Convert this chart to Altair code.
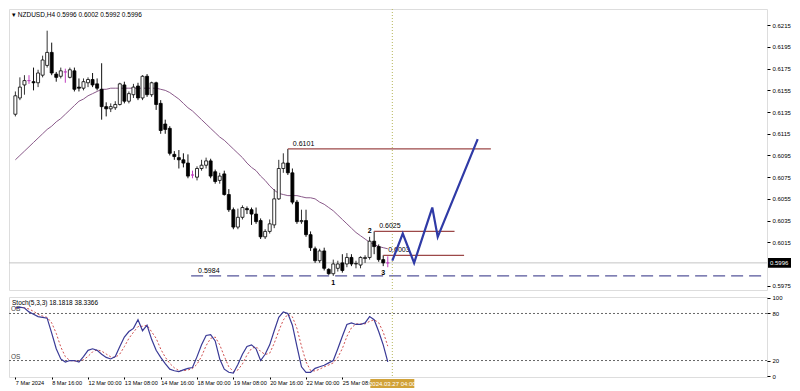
import altair as alt
import pandas as pd

# ---------------- data ----------------
opens = [0.6133, 0.6148, 0.6160, 0.6164, 0.6163, 0.6162, 0.6169, 0.6178, 0.6190, 0.6170,
         0.6168, 0.6172, 0.6167, 0.6173, 0.6158, 0.6157, 0.6162, 0.6165, 0.6161, 0.6156,
         0.6140, 0.6138, 0.6139, 0.6142, 0.6160, 0.6145, 0.6151, 0.6159, 0.6148, 0.6168,
         0.6151, 0.6162, 0.6143, 0.6124, 0.6120, 0.6096, 0.6093, 0.6091, 0.6088, 0.6077,
         0.6075, 0.6083, 0.6086, 0.6090, 0.6080, 0.6072, 0.6078, 0.6059, 0.6045, 0.6029,
         0.6038, 0.6046, 0.6045, 0.6041, 0.6035, 0.6020, 0.6025, 0.6031, 0.6055, 0.6083,
         0.6088, 0.6079, 0.6052, 0.6034, 0.6035, 0.6022, 0.6009, 0.5998, 0.6007, 0.5990,
         0.5986, 0.5991, 0.5996, 0.5995, 0.6001, 0.5995, 0.5994, 0.6000, 0.6001, 0.6016,
         0.6011, 0.5999, 0.5996]
highs = [0.6154, 0.6167, 0.6169, 0.6169, 0.6176, 0.6174, 0.6187, 0.6210, 0.6199, 0.6172,
         0.6176, 0.6175, 0.6176, 0.6176, 0.6166, 0.6166, 0.6167, 0.6171, 0.6166, 0.6180,
         0.6144, 0.6143, 0.6145, 0.6162, 0.6163, 0.6154, 0.6161, 0.6162, 0.6169, 0.6170,
         0.6163, 0.6163, 0.6146, 0.6128, 0.6122, 0.6099, 0.6100, 0.6097, 0.6096, 0.6081,
         0.6085, 0.6091, 0.6093, 0.6092, 0.6082, 0.6079, 0.6081, 0.6064, 0.6047, 0.6046,
         0.6049, 0.6048, 0.6047, 0.6047, 0.6037, 0.6027, 0.6036, 0.6064, 0.6091, 0.6097,
         0.6101, 0.6083, 0.6054, 0.6045, 0.6045, 0.6025, 0.6011, 0.6009, 0.6010, 0.5991,
         0.5999, 0.5998, 0.6004, 0.6005, 0.6004, 0.5998, 0.6002, 0.6003, 0.6020, 0.6025,
         0.6013, 0.6003, 0.6002]
lows = [0.6131, 0.6146, 0.6151, 0.6161, 0.6155, 0.6158, 0.6167, 0.6176, 0.6169, 0.6163,
        0.6166, 0.6162, 0.6166, 0.6154, 0.6154, 0.6155, 0.6158, 0.6158, 0.6155, 0.6128,
        0.6131, 0.6135, 0.6137, 0.6141, 0.6143, 0.6143, 0.6148, 0.6146, 0.6146, 0.6149,
        0.6149, 0.6137, 0.6115, 0.6115, 0.6095, 0.6091, 0.6083, 0.6084, 0.6074, 0.6074,
        0.6072, 0.6081, 0.6083, 0.6074, 0.6069, 0.6069, 0.6058, 0.6043, 0.6027, 0.6027,
        0.6036, 0.6041, 0.6031, 0.6032, 0.6018, 0.6018, 0.6023, 0.6028, 0.6054, 0.6079,
        0.6077, 0.6050, 0.6032, 0.6032, 0.6020, 0.6007, 0.5996, 0.5996, 0.5989, 0.5985,
        0.5984, 0.5988, 0.5987, 0.5992, 0.5993, 0.5991, 0.5991, 0.5996, 0.5999, 0.6004,
        0.5997, 0.5993, 0.5992]
closes = [0.6150, 0.6158, 0.6164, 0.6164, 0.6162, 0.6171, 0.6183, 0.6190, 0.6171, 0.6167,
          0.6173, 0.6172, 0.6174, 0.6156, 0.6157, 0.6163, 0.6165, 0.6160, 0.6157, 0.6140,
          0.6138, 0.6140, 0.6142, 0.6161, 0.6145, 0.6152, 0.6158, 0.6148, 0.6168, 0.6151,
          0.6162, 0.6142, 0.6118, 0.6119, 0.6097, 0.6094, 0.6091, 0.6088, 0.6076, 0.6077,
          0.6083, 0.6086, 0.6090, 0.6076, 0.6071, 0.6076, 0.6059, 0.6045, 0.6029, 0.6038,
          0.6047, 0.6045, 0.6041, 0.6034, 0.6020, 0.6025, 0.6032, 0.6055, 0.6083, 0.6088,
          0.6079, 0.6052, 0.6034, 0.6035, 0.6022, 0.6010, 0.5998, 0.6007, 0.5991, 0.5986,
          0.5995, 0.5995, 0.5989, 0.6001, 0.5995, 0.59955, 0.6001, 0.6001, 0.6016, 0.6011,
          0.5999, 0.5996, 0.5996]
ma_values = [0.6091, 0.6095, 0.6099, 0.6103, 0.6107, 0.6111, 0.6115, 0.6119, 0.6122, 0.6126,
             0.6129, 0.6133, 0.6137, 0.6141, 0.6145, 0.6147, 0.6150, 0.6152, 0.6154, 0.6156,
             0.6156, 0.6157, 0.6157, 0.6157, 0.6157, 0.6157, 0.6157, 0.6157, 0.6157, 0.6157,
             0.6157, 0.6157, 0.6156, 0.6155, 0.6153, 0.6150, 0.6147, 0.6143, 0.6139, 0.6136,
             0.6132, 0.6128, 0.6124, 0.6120, 0.6116, 0.6112, 0.6109, 0.6105, 0.6101, 0.6097,
             0.6093, 0.6088, 0.6084, 0.6081, 0.6076, 0.6072, 0.6067, 0.6063, 0.6060, 0.6059,
             0.6058, 0.6058, 0.6058, 0.6057, 0.6056, 0.6056, 0.6055, 0.6052, 0.6050, 0.6047,
             0.6044, 0.6040, 0.6036, 0.6032, 0.6028, 0.6024, 0.6021, 0.6018, 0.6015, 0.6013,
             0.6011, 0.6010, 0.6009]
stoch_main = [87, 88, 87, 82, 79, 76, 75, 74, 55, 35,
              22, 18, 20, 20, 18, 25, 33, 35, 33, 28,
              24, 22, 25, 38, 50, 57, 61, 72, 58, 65,
              47, 33, 24, 16, 9, 7, 6, 8, 10, 11,
              25, 40, 52, 53, 45, 22, 9, 5, 4, 15,
              28, 38, 40, 35, 20, 28, 40, 58, 75, 82,
              80, 65, 38, 12, 5, 5, 10, 12, 14, 17,
              20, 35, 51, 66, 68, 66, 66, 68, 76, 72,
              57, 40, 18.18]
stoch_signal = [87, 87.5, 87.3, 85.7, 82.7, 79, 76.7, 75, 68, 54.7,
                37.3, 25, 20, 19.3, 19.3, 21, 25.3, 31, 33.7, 32,
                28.3, 24.7, 23.7, 28.3, 37.7, 48.3, 56, 63.3, 63.7, 65,
                56.7, 48.3, 34.7, 24.3, 16.3, 10.7, 7.3, 7, 8, 9.7,
                15.3, 25.3, 39, 48.3, 50, 40, 25.3, 12, 6, 8,
                15.7, 27, 35.3, 37.7, 31.7, 27.7, 29.3, 42, 57.7, 71.7,
                79, 75.7, 61, 38.3, 18.3, 7.3, 6.7, 9, 12, 14.3,
                17, 24, 35.3, 50.7, 61.7, 66.7, 66.7, 66.7, 70, 72,
                68.3, 56.3, 38.34]

date_labels = ["7 Mar 2024", "8 Mar 16:00", "12 Mar 00:00", "13 Mar 08:00", "14 Mar 16:00",
               "18 Mar 00:00", "19 Mar 08:00", "20 Mar 16:00", "22 Mar 00:00", "25 Mar 08:00"]
date_label_bars = [0, 8, 16, 24, 32, 40, 48, 56, 64, 72]
# 0.5995 is hidden behind the current-price box in the reference
price_ticks = [0.5975, 0.6015, 0.6035, 0.6055, 0.6075, 0.6095,
               0.6115, 0.6135, 0.6155, 0.6175, 0.6195, 0.6215]
stoch_ticks = [0, 20, 80, 100]

current_price = 0.5996
title_text = "▾ NZDUSD,H4  0.5996 0.6002 0.5992 0.5996"
stoch_title = "Stoch(5,3,3) 18.1818 38.3366"

level_prices = [0.6101, 0.6025, 0.6003]
level_start_bars = [60, 79, 81]
level_end_bars = [104.7, 96.7, 98.8]
level_texts = ["0.6101", "0.6025", "0.6003"]

support_price = 0.5984
support_start_bar = 38.7
support_text = "0.5984"

zigzag_bars = [83, 85.3, 87.8, 91.8, 93.0, 101.8]
zigzag_prices = [0.5998, 0.6023, 0.5996, 0.6047, 0.6020, 0.6110]

wave_texts = ["1", "2", "3"]
wave_bars = [70, 78, 81]
wave_prices = [0.5984, 0.6020, 0.5993]
wave_side = ["below", "above", "below"]

cursor_bar = 83
cursor_text = "2024.03.27 04:00"
x_domain = [-0.3, 164.4]

# ---------------- layout ----------------
W = 758
MH = 281
SH = 80
FONT = "Liberation Sans"

n = len(opens)
kinds = ["bull" if c > o else ("bear" if c < o else "doji") for o, c in zip(opens, closes)]
candles = pd.DataFrame({"i": list(range(n)), "open": opens, "high": highs, "low": lows,
                        "close": closes, "kind": kinds, "ma": ma_values,
                        "k": stoch_main, "d": stoch_signal})

xs = alt.Scale(domain=x_domain, nice=False, zero=False)
ys = alt.Scale(domain=[0.5971, 0.6230], nice=False, zero=False)
ss = alt.Scale(domain=[-1, 101], nice=False, zero=False)

price_axis = alt.Axis(orient="right", values=price_ticks, format=".4f", title=None,
                      labelFontSize=6, labelColor="#000", tickSize=3, tickColor="#000",
                      domain=False, grid=False, labelPadding=2, labelFont=FONT)
stoch_axis = alt.Axis(orient="right", values=stoch_ticks, title=None, labelFontSize=6,
                      labelColor="#000", tickSize=3, tickColor="#000", domain=False,
                      grid=False, labelPadding=2, labelFont=FONT)
label_expr = "[" + ",".join("'%s'" % s for s in date_labels) + "][floor(datum.value / 8)]"
date_axis = alt.Axis(values=date_label_bars, labelExpr=label_expr, labelAlign="left",
                     labelFontSize=5.6, labelColor="#000", tickSize=2, tickColor="#000",
                     labelPadding=1, domain=False, grid=False, title=None,
                     labelOverlap=False, labelFlush=False, labelFont=FONT)


def X(field):
    return alt.X(field, scale=xs, axis=None)


def Y(field):
    return alt.Y(field, scale=ys, axis=price_axis)


kind_dom = ["bull", "bear", "doji"]

wicks = alt.Chart(candles).mark_rule(strokeWidth=1).encode(
    x=X("i:Q"), y=Y("low:Q"), y2="high:Q",
    color=alt.Color("kind:N", scale=alt.Scale(domain=kind_dom, range=["#333", "#111", "#c040c0"]),
                    legend=None))
bodies = alt.Chart(candles).mark_bar(width=3, strokeWidth=0.8).encode(
    x=X("i:Q"), y=Y("open:Q"), y2="close:Q",
    fill=alt.Fill("kind:N", scale=alt.Scale(domain=kind_dom, range=["#ffffff", "#000000", "#c040c0"]),
                  legend=None),
    stroke=alt.Stroke("kind:N", scale=alt.Scale(domain=kind_dom, range=["#000000", "#000000", "#c040c0"]),
                      legend=None))
ma_line = alt.Chart(candles).mark_line(color="#8a5a8a", strokeWidth=1).encode(
    x=X("i:Q"), y=Y("ma:Q"))

cur_df = pd.DataFrame({"p": [current_price], "t": ["%.4f" % current_price]})
cur_rule = alt.Chart(cur_df).mark_rule(color="#c4c4c4", strokeWidth=1).encode(y=Y("p:Q"))
cur_box = alt.Chart(cur_df).transform_calculate(
    top="datum.p + 0.00045", bot="datum.p - 0.00045").mark_rect(color="#000").encode(
    x=alt.value(W + 1), x2=alt.value(W + 24), y=Y("top:Q"), y2="bot:Q")
cur_txt = alt.Chart(cur_df).mark_text(align="left", baseline="middle", color="#fff",
                                      fontSize=6, font=FONT).encode(
    x=alt.value(W + 3), y=Y("p:Q"), text="t:N")

lev_df = pd.DataFrame({"p": level_prices, "s": level_start_bars, "e": level_end_bars, "t": level_texts})
lev_rules = alt.Chart(lev_df).mark_rule(color="#9c4848", strokeWidth=1.2).encode(
    x=X("s:Q"), x2="e:Q", y=Y("p:Q"))
lev_txt = alt.Chart(lev_df).mark_text(align="left", baseline="bottom", dx=5, dy=-2,
                                      fontSize=7, font=FONT, color="#000").encode(
    x=X("s:Q"), y=Y("p:Q"), text="t:N")

sup_df = pd.DataFrame({"p": [support_price], "s": [support_start_bar], "e": [x_domain[1]], "t": [support_text]})
sup_rule = alt.Chart(sup_df).mark_rule(color="#55559a", strokeWidth=1.2, strokeDash=[12, 6]).encode(
    x=X("s:Q"), x2="e:Q", y=Y("p:Q"))
sup_txt = alt.Chart(sup_df).mark_text(align="left", baseline="bottom", dx=7, dy=-2,
                                      fontSize=7, font=FONT, color="#000").encode(
    x=X("s:Q"), y=Y("p:Q"), text="t:N")

zz_df = pd.DataFrame({"b": zigzag_bars, "p": zigzag_prices, "o": list(range(len(zigzag_bars)))})
zigzag = alt.Chart(zz_df).mark_line(color="#2f3aa6", strokeWidth=2.2, strokeJoin="miter").encode(
    x=X("b:Q"), y=Y("p:Q"), order="o:Q")

wv_df = pd.DataFrame({"b": wave_bars, "p": wave_prices, "t": wave_texts, "side": wave_side})
wv_below = alt.Chart(wv_df).transform_filter("datum.side == 'below'").mark_text(
    baseline="top", dy=3, fontSize=7, fontWeight="bold", font=FONT, color="#000").encode(
    x=X("b:Q"), y=Y("p:Q"), text="t:N")
wv_above = alt.Chart(wv_df).transform_filter("datum.side == 'above'").mark_text(
    baseline="bottom", dy=-3, fontSize=7, fontWeight="bold", font=FONT, color="#000").encode(
    x=X("b:Q"), y=Y("p:Q"), text="t:N")

cur_df2 = pd.DataFrame({"b": [cursor_bar], "t": [cursor_text]})
cursor_main = alt.Chart(cur_df2).mark_rule(color="#b6b65a", strokeWidth=1, strokeDash=[1, 2]).encode(
    x=X("b:Q"))

title_mark = alt.Chart(cur_df).mark_text(align="left", baseline="middle", fontSize=6.5,
                                         font=FONT, color="#000").encode(
    x=alt.value(3), y=alt.value(6), text=alt.value(title_text))

main = alt.layer(cur_rule, sup_rule, cursor_main, ma_line, wicks, bodies, lev_rules, lev_txt,
                 sup_txt, zigzag, wv_below, wv_above, cur_box, cur_txt, title_mark).properties(
    width=W, height=MH)

# ---------------- stochastic panel ----------------
def XS(field):
    return alt.X(field, scale=xs, axis=date_axis)


def YS(field):
    return alt.Y(field, scale=ss, axis=stoch_axis)


lvl_df = pd.DataFrame({"v": [20, 80], "t": ["OS", "OB"]})
st_levels = alt.Chart(lvl_df).mark_rule(color="#666", strokeWidth=1, strokeDash=[2, 2]).encode(
    y=YS("v:Q"))
st_lvl_txt = alt.Chart(lvl_df).mark_text(align="left", baseline="bottom", dy=-1, fontSize=6.5,
                                         font=FONT, color="#444").encode(
    x=alt.value(2), y=YS("v:Q"), text="t:N")
st_sig = alt.Chart(candles).mark_line(color="#d05050", strokeWidth=1, strokeDash=[2, 2]).encode(
    x=XS("i:Q"), y=YS("d:Q"))
st_main = alt.Chart(candles).mark_line(color="#3a3a96", strokeWidth=1.2).encode(
    x=XS("i:Q"), y=YS("k:Q"))
cursor_st = alt.Chart(cur_df2).mark_rule(color="#b6b65a", strokeWidth=1, strokeDash=[1, 2]).encode(
    x=XS("b:Q"))
cursor_box = alt.Chart(cur_df2).mark_bar(width=44, color="#d1a238").encode(
    x=XS("b:Q"), y=alt.value(SH + 2), y2=alt.value(SH + 11))
cursor_lbl = alt.Chart(cur_df2).mark_text(baseline="middle", fontSize=6, font=FONT, color="#fff").encode(
    x=XS("b:Q"), y=alt.value(SH + 6.5), text="t:N")
st_title = alt.Chart(cur_df).mark_text(align="left", baseline="middle", fontSize=6.5,
                                       font=FONT, color="#000").encode(
    x=alt.value(3), y=alt.value(6), text=alt.value(stoch_title))

stoch = alt.layer(st_levels, st_lvl_txt, cursor_st, st_sig, st_main, cursor_box, cursor_lbl,
                  st_title).properties(width=W, height=SH)

chart = alt.vconcat(main, stoch, spacing=3).properties(
    padding={"left": 0, "top": 0, "right": 0, "bottom": 0},
    background="#ffffff").configure_view(
    stroke="#444", strokeWidth=1).configure(font=FONT)

chart.save("out.html", embed_options={"renderer": "svg", "actions": False})
